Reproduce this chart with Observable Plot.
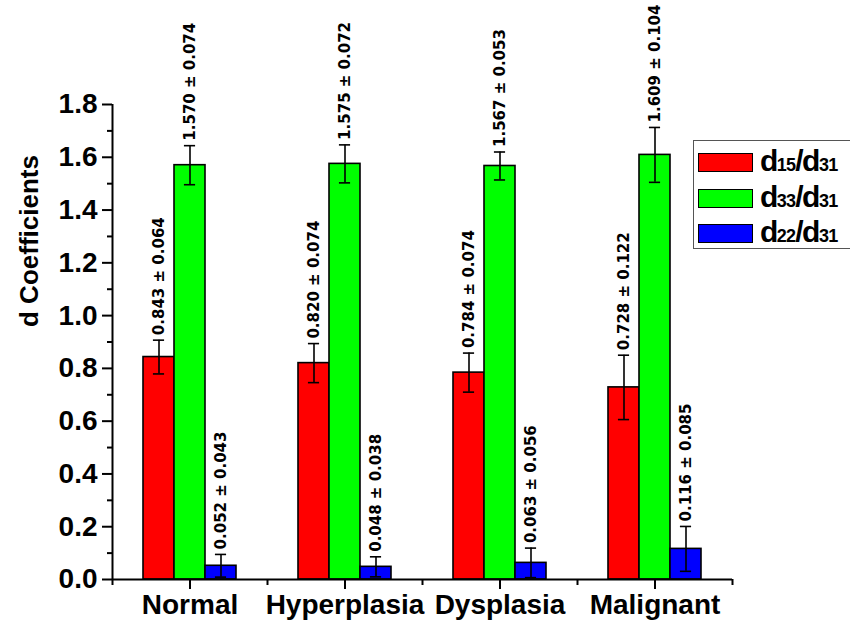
<!DOCTYPE html>
<html>
<head>
<meta charset="utf-8">
<script src="https://cdn.jsdelivr.net/npm/d3@7"></script>
<script src="https://cdn.jsdelivr.net/npm/@observablehq/plot@0.6"></script>
<style>
  html, body { margin: 0; padding: 0; background: #fff; }
  #wrap { position: relative; width: 850px; height: 625px; overflow: hidden; background: #fff; }
  #legend { position: absolute; left: 693px; top: 140px; width: 170px; height: 109px;
            border: 1px solid #555; box-sizing: border-box; background: #fff; }
  .item { position: absolute; left: 4px; height: 20px; }
  .sw { position: absolute; left: 0; top: 0; width: 55px; height: 19px; box-sizing: border-box; border: 1.6px solid #000; }
  .lab { position: absolute; left: 62px; top: -10px; white-space: nowrap;
         font-family: "Liberation Sans", Arial, sans-serif; font-weight: bold; font-size: 30px;
         letter-spacing: -1.5px; color: #000; line-height: 36px; }
  .lab .sub { font-size: 18px; letter-spacing: -0.8px; }
</style>
</head>
<body>
<div id="wrap"></div>
<script>
// ---- data ----
const categories = ["Normal", "Hyperplasia", "Dysplasia", "Malignant"];
const series = ["d15/d31", "d33/d31", "d22/d31"];
const colors = ["#ff0000", "#00ff00", "#0000ff"];
const d15Mean = [0.843, 0.820, 0.784, 0.728];
const d15Err  = [0.064, 0.074, 0.074, 0.122];
const d33Mean = [1.570, 1.575, 1.567, 1.609];
const d33Err  = [0.074, 0.072, 0.053, 0.104];
const d22Mean = [0.052, 0.048, 0.063, 0.116];
const d22Err  = [0.043, 0.038, 0.056, 0.085];
const yTicks = [0.0, 0.2, 0.4, 0.6, 0.8, 1.0, 1.2, 1.4, 1.6, 1.8];

const means = [d15Mean, d33Mean, d22Mean];
const errs = [d15Err, d33Err, d22Err];

// ---- table ----
const barW = 0.2;       // bar width as a fraction of one category step
const capHalf = 0.036;  // half width of error-bar caps, same units
const rows = [];
categories.forEach((cat, i) => {
  series.forEach((ser, j) => {
    rows.push({cat, ser, pos: (i + 1) + (j - 1) * barW, v: means[j][i], e: errs[j][i]});
  });
});

const yMinor = yTicks.slice(0, -1).map(t => +(t + 0.1).toFixed(1));
const xMajor = categories.map((_, i) => i + 1);
const xMinor = d3.range(0, categories.length + 1).map(k => k + 0.5);

const chart = Plot.plot({
  width: 850,
  height: 625,
  marginLeft: 112,
  marginRight: 118,
  marginTop: 104,
  marginBottom: 46,
  style: {fontFamily: "'Liberation Sans', Arial, sans-serif", color: "#000", background: "#fff", overflow: "visible"},
  x: {domain: [0.5, categories.length + 0.5]},
  y: {domain: [0, 1.8]},
  color: {domain: series, range: colors},
  marks: [
    Plot.rectY(rows, {x1: d => d.pos - barW / 2, x2: d => d.pos + barW / 2, y: "v",
                      fill: "ser", stroke: "#000", strokeWidth: 1.6}),
    Plot.ruleX(rows, {x: "pos", y1: d => d.v - d.e, y2: d => d.v + d.e, stroke: "#000", strokeWidth: 1.6}),
    Plot.ruleY(rows, {y: d => d.v + d.e, x1: d => d.pos - capHalf, x2: d => d.pos + capHalf, stroke: "#000", strokeWidth: 1.6}),
    Plot.ruleY(rows, {y: d => d.v - d.e, x1: d => d.pos - capHalf, x2: d => d.pos + capHalf, stroke: "#000", strokeWidth: 1.6}),
    Plot.text(rows, {x: "pos", y: d => d.v + d.e,
                     text: d => `${d.v.toFixed(3)} ± ${d.e.toFixed(3)}`,
                     rotate: -90, textAnchor: "start", lineAnchor: "middle", dy: -5,
                     fontSize: 15, fontWeight: "bold", fontFamily: "'DejaVu Sans', sans-serif", fill: "#000"}),
    // axis lines
    Plot.ruleY([0], {stroke: "#000", strokeWidth: 2}),
    Plot.ruleX([0.5], {y1: 0, y2: 1.8, stroke: "#000", strokeWidth: 2}),
    // y axis
    Plot.axisY({ticks: yTicks, tickFormat: d3.format(".1f"), tickSize: 10, tickPadding: 5,
                fontSize: 28, fontWeight: "bold", strokeWidth: 2, label: null}),
    Plot.axisY({ticks: yMinor, tickFormat: () => "", tickSize: 5, strokeWidth: 2, label: null}),
    // x axis
    Plot.axisX({ticks: xMajor, tickFormat: i => categories[i - 1], tickSize: 10, tickPadding: 5,
                fontSize: 28, fontWeight: "bold", strokeWidth: 2, label: null}),
    Plot.axisX({ticks: xMinor, tickFormat: () => "", tickSize: 6, strokeWidth: 2, label: null}),
    // y label
    Plot.text(["d Coefficients"], {frameAnchor: "left", rotate: -90, dx: -83, dy: -15,
                                   fontSize: 26, fontWeight: "bold", fill: "#000"})
  ]
});

const wrap = document.getElementById("wrap");
wrap.appendChild(chart);

// ---- legend ----
const legend = document.createElement("div");
legend.id = "legend";
series.forEach((s, k) => {
  const item = document.createElement("div");
  item.className = "item";
  item.style.top = (12 + k * 35.5) + "px";
  const sw = document.createElement("div");
  sw.className = "sw";
  sw.style.background = colors[k];
  const lab = document.createElement("div");
  lab.className = "lab";
  lab.innerHTML = s.replace(/(\d+)/g, '<span class="sub">$1</span>');
  item.appendChild(sw);
  item.appendChild(lab);
  legend.appendChild(item);
});
wrap.appendChild(legend);
</script>
</body>
</html>
